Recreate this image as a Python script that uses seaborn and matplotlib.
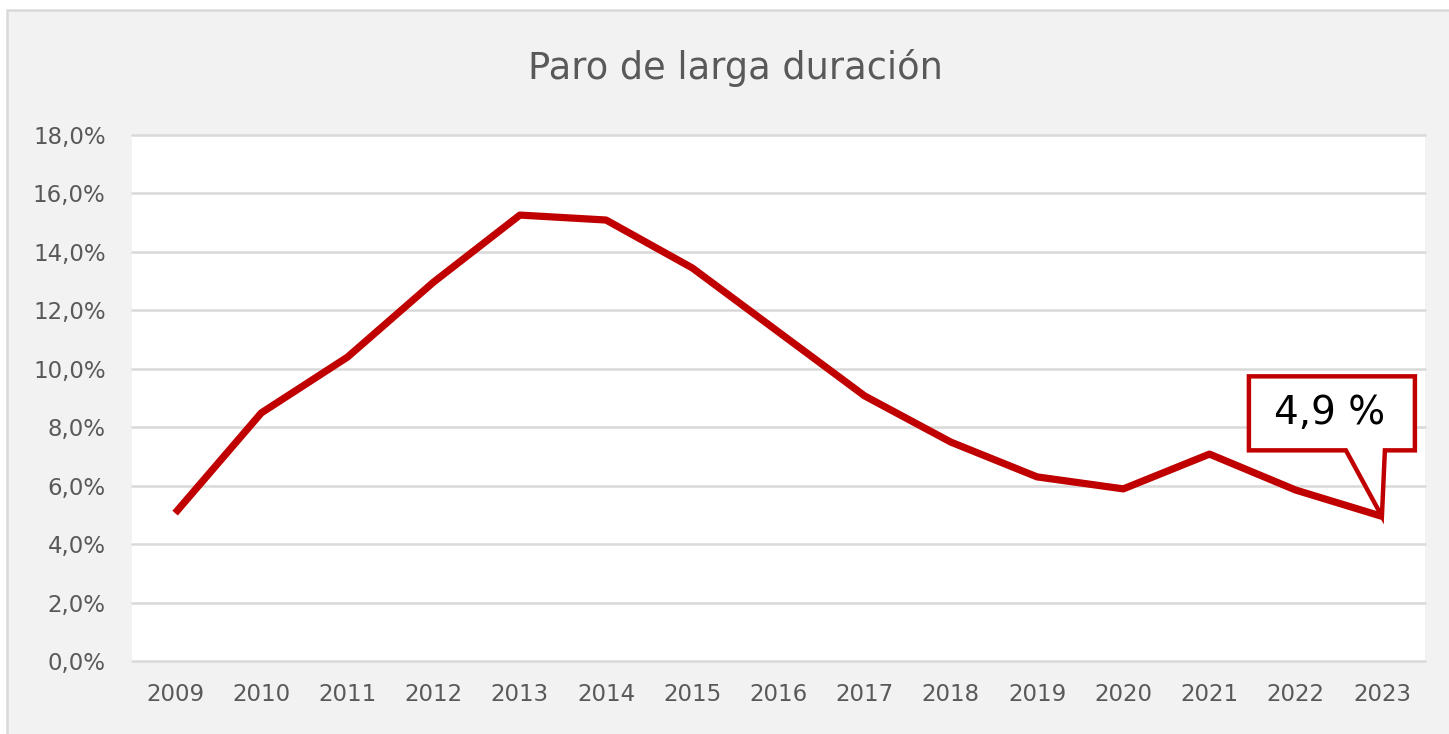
import matplotlib
matplotlib.use("Agg")
import matplotlib.pyplot as plt
import matplotlib.transforms as mtransforms
from matplotlib.patches import Polygon, Rectangle
import seaborn as sns
import pandas as pd

years = [2009, 2010, 2011, 2012, 2013, 2014, 2015, 2016, 2017, 2018, 2019, 2020, 2021, 2022, 2023]
paro = [5.06, 8.49, 10.4, 12.97, 15.26, 15.09, 13.45, 11.26, 9.07, 7.49, 6.30, 5.89, 7.08, 5.85, 4.95]
yticks = [0, 2, 4, 6, 8, 10, 12, 14, 16, 18]
title = "Paro de larga duración"
callout_text = "4,9 %"

sns.set_theme(style="white")
plt.rcParams['font.family'] = ['DejaVu Sans']

W, H, DPI = 1449, 734, 100
fig = plt.figure(figsize=(W / DPI, H / DPI), dpi=DPI, facecolor="white")
# chart area background with border
fig.patches.append(Rectangle((7, -5), W + 10, H - 10 + 5, transform=mtransforms.IdentityTransform(),
                             facecolor="#f2f2f2", edgecolor="#d9d9d9", linewidth=1.8, zorder=-10))
ax = fig.add_axes([132 / W, 1 - 661 / H, (1425 - 132) / W, (661 - 135) / H])
ax.set_facecolor("white")

df = pd.DataFrame({"year": years, "paro": paro})
sns.lineplot(data=df, x="year", y="paro", ax=ax, color="#c00000", linewidth=5.2,
             solid_joinstyle="round", solid_capstyle="butt", zorder=5)

ax.set_xlim(years[0] - 0.5, years[-1] + 0.5)
ax.set_ylim(yticks[0], yticks[-1])
ax.set_yticks(yticks)
ax.set_yticklabels([f"{v:.1f}%".replace(".", ",") for v in yticks])
ax.set_xticks(years)
ax.set_xticklabels([str(y) for y in years])
ax.grid(axis="y", color="#d9d9d9", linewidth=1.8)
ax.grid(axis="x", visible=False)
for gl in ax.get_ygridlines():
    gl.set_clip_on(False)
for s in ax.spines.values():
    s.set_visible(False)
ax.tick_params(axis="both", length=0, colors="#595959", labelsize=16.5)
ax.tick_params(axis="y", pad=19)
ax.tick_params(axis="x", pad=16)
ax.set_xlabel("")
ax.set_ylabel("")

fig.text(735 / W, 1 - 68 / H, title, ha="center", va="center", fontsize=26.5, color="#595959")

# callout anchored at last data point (pixel offsets)
anchor = mtransforms.ScaledTranslation(years[-1], paro[-1], ax.transData)
trans = mtransforms.IdentityTransform() + anchor
verts = [(-133, 140), (33, 140), (33, 66), (3, 66), (0, 0), (-36, 66), (-133, 66)]
poly = Polygon(verts, closed=True, transform=trans, facecolor="white", edgecolor="#c00000",
               linewidth=3.2, joinstyle="miter", zorder=10, clip_on=False)
ax.add_patch(poly)
ax.text(-52, 103, callout_text, transform=trans, ha="center", va="center", fontsize=28,
        color="black", zorder=11)

fig.savefig("out.png", dpi=DPI, facecolor="white")
